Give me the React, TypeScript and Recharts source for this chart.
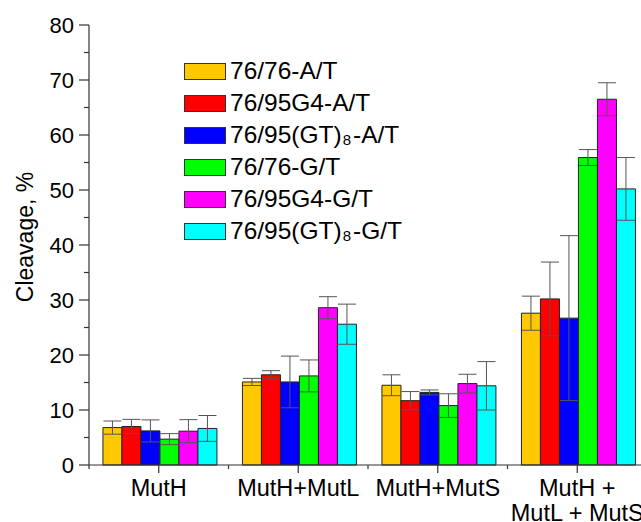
import React from 'react';
import { BarChart, Bar, XAxis, YAxis, ErrorBar, Legend } from 'recharts';

// categories on x axis ("\n" = line break in tick label)
const categories = ['MutH', 'MutH+MutL', 'MutH+MutS', 'MutH +\nMutL + MutS'];

// series names, "_8" marks the subscript
const seriesNames = ['76/76-A/T', '76/95G4-A/T', '76/95(GT)_8-A/T', '76/76-G/T', '76/95G4-G/T', '76/95(GT)_8-G/T'];
const seriesColors = ['#FFC800', '#FF0000', '#0000FF', '#00FF00', '#FF00FF', '#00FFFF'];

// cleavage values, %, one entry per category
const s7676AT = [6.8, 15.1, 14.5, 27.6];
const s95G4AT = [7.0, 16.4, 11.7, 30.2];
const s95GTAT = [6.2, 15.1, 13.2, 26.7];
const s7676GT = [4.7, 16.2, 10.8, 55.9];
const s95G4GT = [6.15, 28.6, 14.8, 66.5];
const s95GTGT = [6.65, 25.6, 14.4, 50.2];

// error bar half-widths
const e7676AT = [1.2, 0.65, 1.9, 3.1];
const e95G4AT = [1.3, 0.75, 1.65, 6.7];
const e95GTAT = [2.0, 4.7, 0.45, 15];
const e7676GT = [1.0, 2.9, 2.15, 1.45];
const e95G4GT = [2.1, 2.0, 1.7, 3.0];
const e95GTGT = [2.35, 3.65, 4.4, 5.7];

const yTicks = [0, 5, 10, 15, 20, 25, 30, 35, 40, 45, 50, 55, 60, 65, 70, 75, 80];

const values = [s7676AT, s95G4AT, s95GTAT, s7676GT, s95G4GT, s95GTGT];
const errors = [e7676AT, e95G4AT, e95GTAT, e7676GT, e95G4GT, e95GTGT];

const data = categories.map((name, i) => {
  const row: Record<string, number | string> = { name };
  values.forEach((v, k) => {
    row['v' + k] = v[i];
    row['e' + k] = errors[k][i];
  });
  return row;
});

const FONT = '"Liberation Sans", Arial, sans-serif';
const AXIS = '#333';
const PLOT_W = 558;
const BAND = PLOT_W / categories.length;

const YTick = (props: any) => {
  const { x, y, payload } = props;
  const major = payload.value % 10 === 0;
  return (
    <g>
      <line x1={x} x2={x - (major ? 10 : 5)} y1={y} y2={y} stroke={AXIS} strokeWidth={1.2} />
      {major && (
        <text x={x - 15} y={y} dy="0.36em" textAnchor="end" fontSize={22} fontFamily={FONT} fill="#000">
          {payload.value}
        </text>
      )}
    </g>
  );
};

const XTick = (props: any) => {
  const { x, y, payload } = props;
  const lines = String(payload.value).split('\n');
  return (
    <g>
      <line x1={x} x2={x} y1={y} y2={y + 8} stroke={AXIS} strokeWidth={1.2} />
      <line x1={x - BAND / 2} x2={x - BAND / 2} y1={y} y2={y + 4} stroke={AXIS} strokeWidth={1.2} />
      <text textAnchor="middle" fontSize={23.5} fontFamily={FONT} fill="#000">
        {lines.map((l, i) => (
          <tspan key={i} x={x} y={y + 31 + i * 25}>
            {l}
          </tspan>
        ))}
      </text>
    </g>
  );
};

const renderName = (name: string) => {
  const parts = name.split('_8');
  if (parts.length === 1) return name;
  return (
    <>
      {parts[0]}
      <span style={{ fontSize: 15, verticalAlign: '-2px', margin: '0 2px 0 1px' }}>8</span>
      {parts[1]}
    </>
  );
};

const LegendContent = () => (
  <div style={{ fontFamily: FONT, fontSize: 24.5, color: '#000' }}>
    {seriesNames.map((n, i) => (
      <div key={n} style={{ display: 'flex', alignItems: 'center', height: 32, whiteSpace: 'nowrap' }}>
        <span
          style={{
            display: 'inline-block',
            width: 40,
            height: 15,
            background: seriesColors[i],
            border: '1px solid #333',
            marginRight: 4,
          }}
        />
        <span>{renderName(n)}</span>
      </div>
    ))}
  </div>
);

const YLabel = (props: any) => {
  const { viewBox } = props;
  const cx = 25;
  const cy = viewBox.y + viewBox.height / 2 - 8;
  return (
    <text
      x={cx}
      y={cy}
      transform={`rotate(-90 ${cx} ${cy})`}
      textAnchor="middle"
      dominantBaseline="central"
      fontSize={23}
      fontFamily={FONT}
      fill="#000"
    >
      Cleavage, %
    </text>
  );
};

export default function App() {
  return (
    <div style={{ position: 'fixed', left: 0, top: 0, width: 641, height: 522, overflow: 'hidden', background: '#fff' }}>
      <BarChart
        width={89 + PLOT_W}
        height={522}
        data={data}
        margin={{ top: 25, right: 0, bottom: 0, left: 0 }}
        barCategoryGap="10%"
        barGap={0}
      >
        <XAxis
          dataKey="name"
          height={57}
          interval={0}
          tick={<XTick />}
          tickLine={false}
          tickSize={0}
          tickMargin={0}
          axisLine={{ stroke: AXIS, strokeWidth: 1.2 }}
        />
        <YAxis
          width={89}
          domain={[0, 80]}
          ticks={yTicks}
          interval={0}
          tick={<YTick />}
          tickLine={false}
          tickSize={0}
          tickMargin={0}
          axisLine={{ stroke: AXIS, strokeWidth: 1.2 }}
          label={<YLabel />}
        />
        <Legend
          layout="vertical"
          align="center"
          verticalAlign="middle"
          content={<LegendContent />}
          wrapperStyle={{ left: 184, top: 55, width: 'auto', height: 'auto' }}
        />
        {seriesNames.map((n, k) => (
          <Bar
            key={n}
            dataKey={'v' + k}
            name={n}
            fill={seriesColors[k]}
            stroke="#222"
            strokeWidth={1}
            isAnimationActive={false}
          >
            <ErrorBar dataKey={'e' + k} width={9} stroke="#555" strokeWidth={1} isAnimationActive={false} />
          </Bar>
        ))}
      </BarChart>
    </div>
  );
}
